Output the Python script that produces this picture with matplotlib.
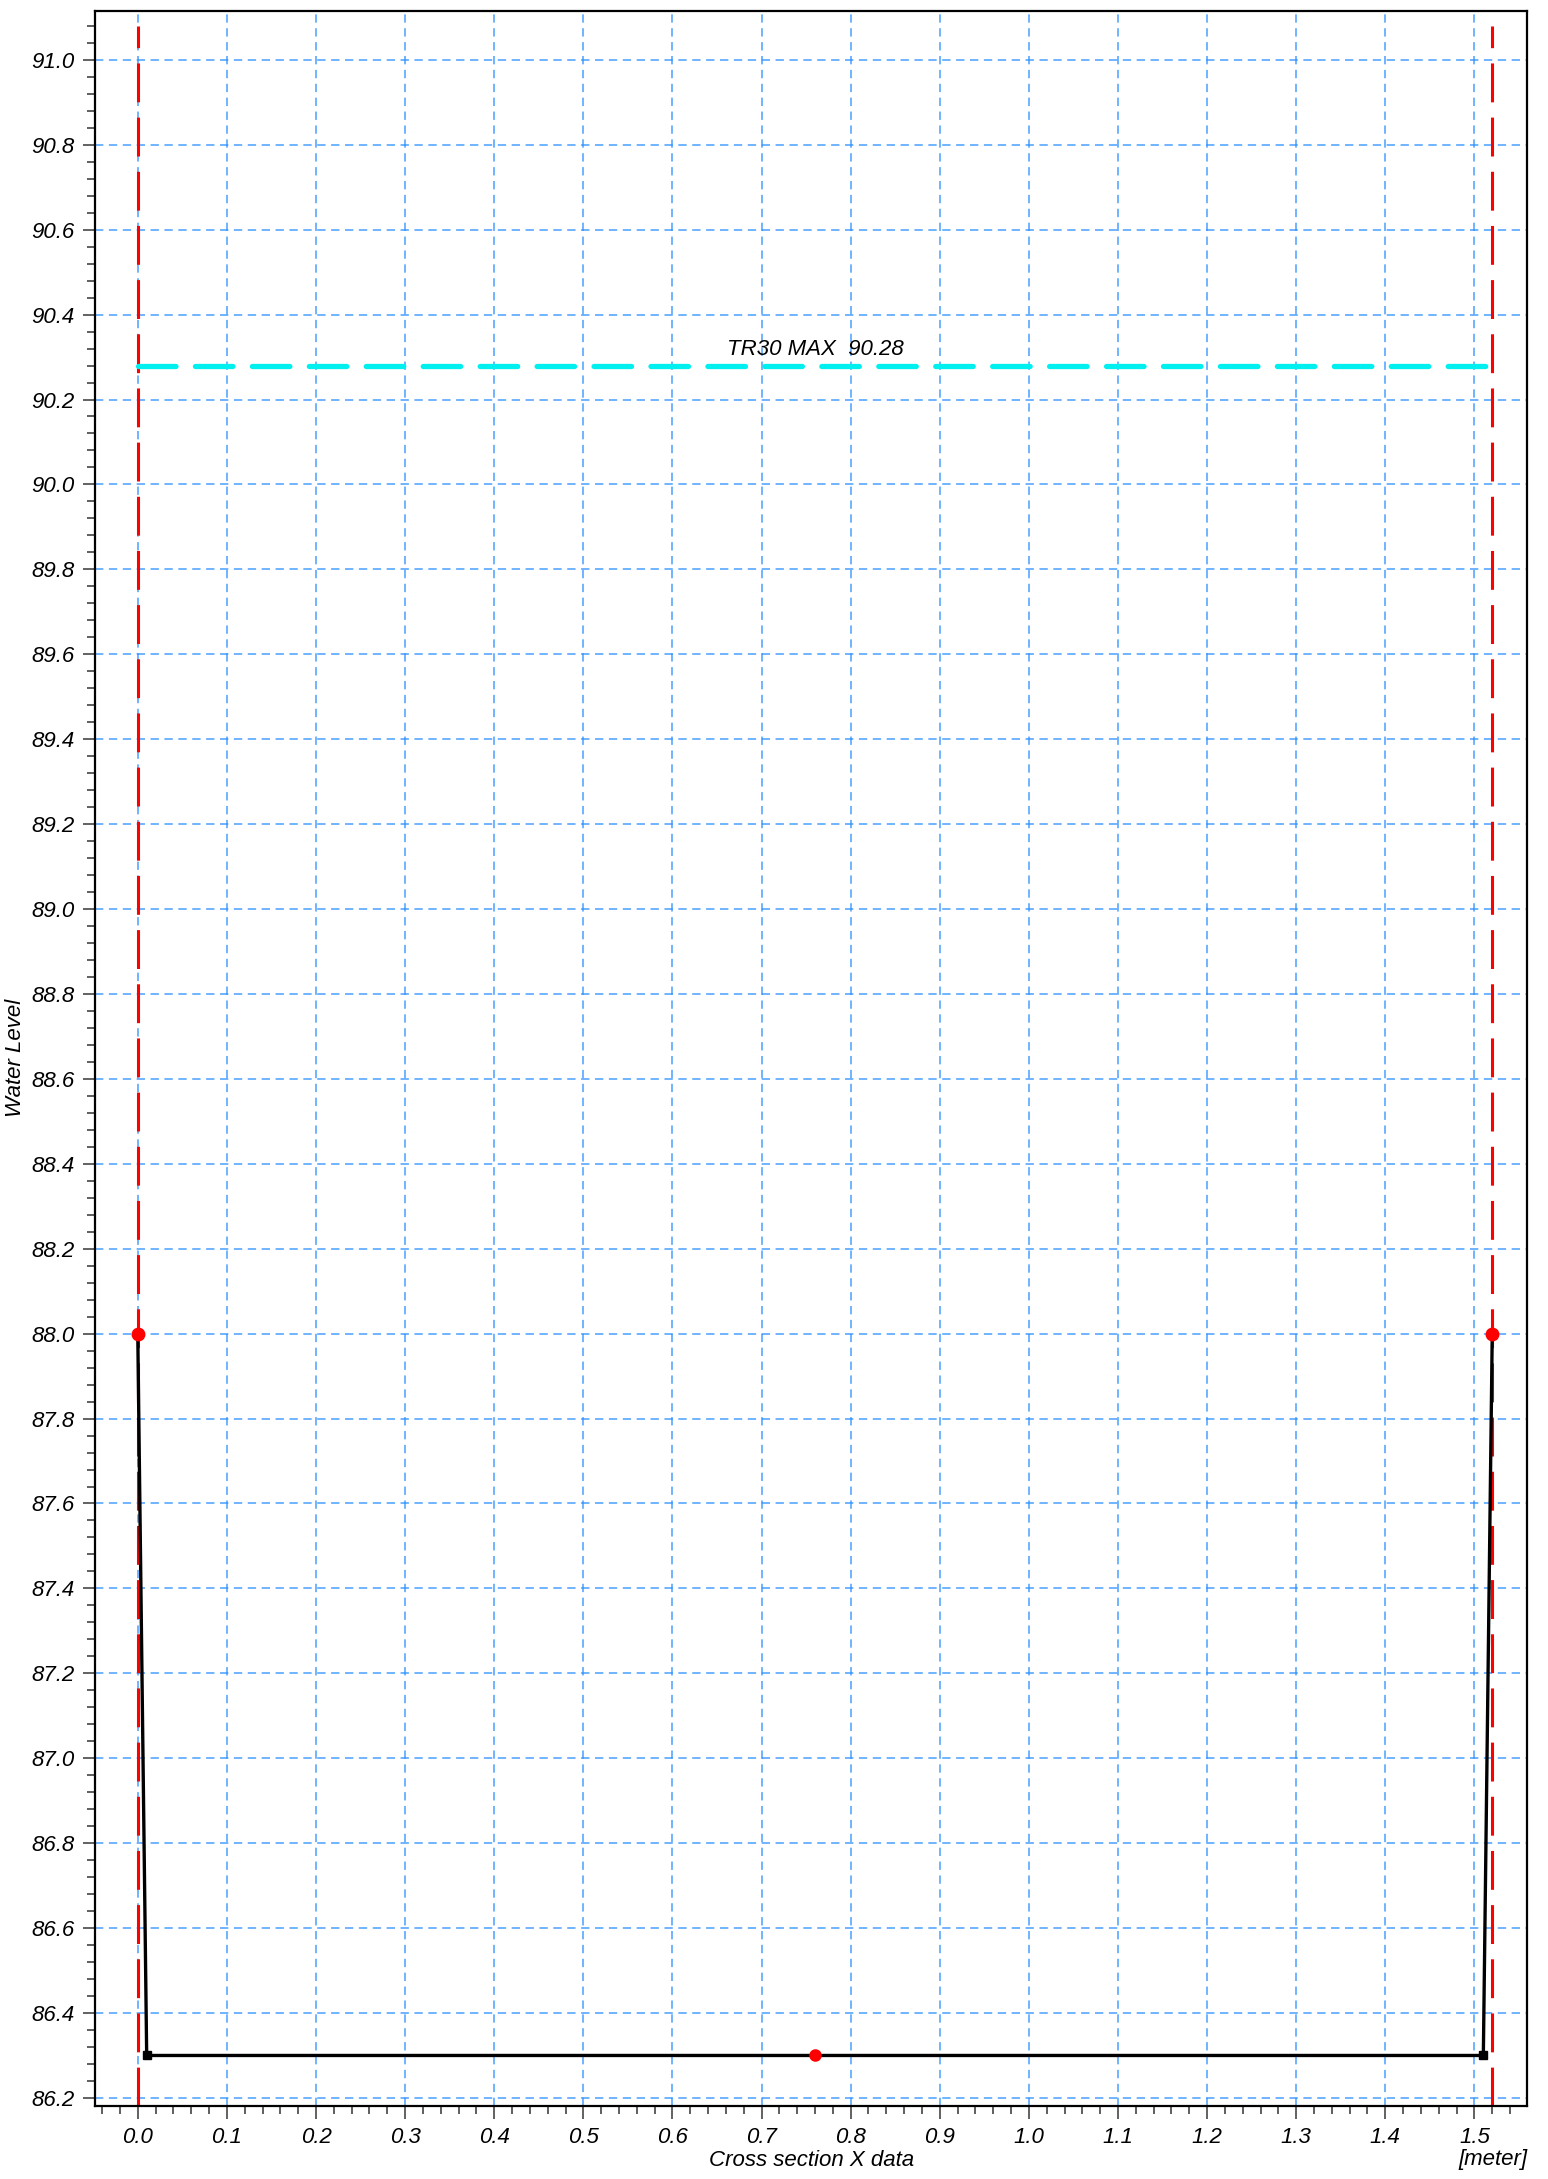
import matplotlib
matplotlib.use("Agg")
import matplotlib.pyplot as plt
from matplotlib.ticker import MultipleLocator, FormatStrFormatter

plt.rcParams['font.family'] = ['Liberation Sans', 'DejaVu Sans']
plt.rcParams['font.style'] = 'italic'
plt.rcParams['lines.scale_dashes'] = False

# cross section profile
sec_x = [0.0, 0.01, 1.51, 1.52]
sec_y = [88.0, 86.3, 86.3, 88.0]
# points on the section
bank_x = [0.0, 1.52]
bank_y = [88.0, 88.0]
mid_x = [0.76]
mid_y = [86.3]
corner_x = [0.01, 1.51]
corner_y = [86.3, 86.3]
# limits of the section (red dashed)
limit_x = [0.0, 1.52]
limit_top = 91.08
# water level
wl_name = "TR30 MAX"
wl_value = 90.28

fig = plt.figure(figsize=(15.48, 21.79), dpi=100)
ax = fig.add_axes([95/1548, 1 - 2106/2179, 1432/1548, 2095/2179])

ax.set_xlim(-0.048, 1.559)
ax.set_ylim(86.181, 91.115)

# grid
ax.xaxis.set_major_locator(MultipleLocator(0.1))
ax.xaxis.set_minor_locator(MultipleLocator(0.02))
ax.yaxis.set_major_locator(MultipleLocator(0.2))
ax.yaxis.set_minor_locator(MultipleLocator(0.04))
ax.xaxis.set_major_formatter(FormatStrFormatter('%.1f'))
ax.yaxis.set_major_formatter(FormatStrFormatter('%.1f'))
ax.grid(True, which='major', color='#2a90ff', linewidth=1.1, dashes=(6, 4), alpha=0.85)
ax.set_axisbelow(True)

# red limit lines
for lx in limit_x:
    ax.plot([lx, lx], [ax.get_ylim()[0], limit_top], color='red', linewidth=2.2,
            dashes=(28, 11), zorder=2)

# water level line
ax.plot([limit_x[0], limit_x[1]], [wl_value, wl_value], color='#00f0f0', linewidth=3.8,
        dashes=(27, 14), dash_capstyle='round', zorder=3)
ax.text(sum(limit_x) / 2, wl_value + 0.012, f"{wl_name}  {wl_value:.2f}", ha='center',
        va='bottom', fontsize=16, style='italic')

# section
ax.plot(sec_x, sec_y, color='black', linewidth=2.4, zorder=4)
ax.plot(corner_x, corner_y, 's', color='black', markersize=6, zorder=5)
ax.plot(bank_x, bank_y, 'o', color='red', markersize=9, zorder=5)
ax.plot(mid_x, mid_y, 'o', color='red', markersize=8, zorder=5)

for s in ax.spines.values():
    s.set_linewidth(1.6)

ax.tick_params(which='major', direction='out', length=9, width=1.3, color='#555555',
               labelsize=16, pad=6)
ax.tick_params(which='minor', direction='out', length=6, width=1.1, color='#333333')
for lab in ax.get_xticklabels() + ax.get_yticklabels():
    lab.set_style('italic')

fig.text(16/1548, 1 - 1058/2179, 'Water Level', rotation=90, ha='center', va='center',
         fontsize=16, style='italic')
fig.text(812/1548, 1 - 2160/2179, 'Cross section X data', ha='center', va='center',
         fontsize=16, style='italic')
fig.text(1527/1548, 1 - 2160/2179, '[meter]', ha='right', va='center',
         fontsize=16, style='italic')

fig.savefig('out.png', dpi=100)
